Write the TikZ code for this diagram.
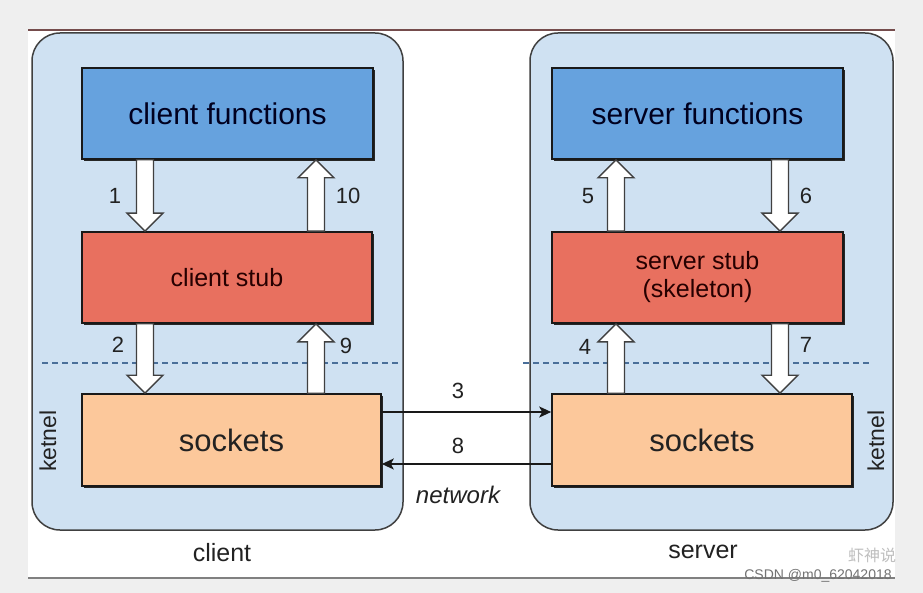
\documentclass[tikz,border=0pt]{standalone}
\usepackage{fontspec}
\setmainfont{Liberation Sans}
\newfontfamily\cjk{Noto Sans CJK SC}
\usetikzlibrary{shadows,arrows.meta,calc}
\definecolor{bgray}{HTML}{EFEFEF}
\definecolor{outerfill}{HTML}{CFE1F2}
\definecolor{bluefill}{HTML}{66A2DE}
\definecolor{redfill}{HTML}{E8705F}
\definecolor{peach}{HTML}{FCC89B}
\definecolor{txt}{HTML}{222222}
\definecolor{dashc}{HTML}{4A6F9A}
\tikzset{
  outerbox/.style={draw=black!75, line width=1.5pt, fill=outerfill, rounded corners=28pt, inner sep=0pt},
  innerbox/.style={draw=black!90, line width=1.6pt, inner sep=0pt,
    drop shadow={shadow xshift=1.8pt, shadow yshift=-1.8pt, opacity=1, fill=black!85}},
  fnbox/.style={innerbox, fill=bluefill, text=black!80!blue!60!black, font=\fontsize{30}{34}\selectfont},
  stubbox/.style={innerbox, fill=redfill, text=black!75!red!60!black, font=\fontsize{25}{30}\selectfont, align=center},
  sockbox/.style={innerbox, fill=peach, text=txt, font=\fontsize{31}{36}\selectfont},
  num/.style={text=txt, font=\fontsize{22}{26}\selectfont, inner sep=0pt},
  barrow/.style={draw=black!75, line width=1.4pt, fill=white, line join=miter},
  netarrow/.style={draw=black!90, line width=1.8pt, -{Stealth[length=12pt,width=11pt,inset=3pt]}},
  divline/.style={draw=dashc, line width=1.5pt, dash pattern=on 6pt off 4pt}
}
\newcommand\blockarrow[2]{%
  \draw[barrow] let \p1=#1, \p2=#2, \n1={ifthenelse(\y2<\y1,-1,1)} in
    (\x1-8.5pt,\y1) -- (\x1-8.5pt,{\y2-(\n1)*18pt}) -- (\x1-18pt,{\y2-(\n1)*18pt}) -- (\x2,\y2)
    -- (\x1+18pt,{\y2-(\n1)*18pt}) -- (\x1+8.5pt,{\y2-(\n1)*18pt}) -- (\x1+8.5pt,\y1) -- cycle;}
\begin{document}
\begin{tikzpicture}[x=1pt,y=-1pt]
\useasboundingbox (0,0) rectangle (923,593);
\fill[bgray] (0,0) rectangle (923,593);
\fill[white] (28,30) rectangle (895,578);
\draw[line width=1.5pt, draw=black!60!red!40!gray] (28,30) -- (895,30);
\draw[line width=2pt, draw=black!50] (28,578) -- (895,578);

% outer boxes
\node[outerbox, minimum width=371pt, minimum height=497pt] (cl) at (217.5,281.5) {};
\node[outerbox, minimum width=363pt, minimum height=497pt] (sv) at (711.5,281.5) {};

% dashed kernel lines
\coordinate (dl1) at (42,363);
\coordinate (dl2) at (401,363);
\coordinate (dr1) at (523,363);
\coordinate (dr2) at (870,363);
\draw[divline] (dl1) -- (dl2);
\draw[divline] (dr1) -- (dr2);

% inner boxes
\node[fnbox, minimum width=291pt, minimum height=91pt] (cf) at (227.5,113.5) {client functions};
\node[stubbox, minimum width=290pt, minimum height=91pt] (cs) at (227,277.5) {client stub};
\node[sockbox, minimum width=299pt, minimum height=92pt] (sockL) at (231.5,440) {sockets};
\node[fnbox, minimum width=291pt, minimum height=91pt] (sf) at (697.5,113.5) {server functions};
\node[stubbox, minimum width=291pt, minimum height=91pt] (ss) at (697.5,277.5) {server stub\\[-2pt](skeleton)};
\node[sockbox, minimum width=300pt, minimum height=92pt] (sockR) at (702,440) {sockets};

% block arrows
\blockarrow{(cf.south -| 145,0)}{(cs.north -| 145,0)}
\blockarrow{(cs.north -| 316,0)}{(cf.south -| 316,0)}
\blockarrow{(cs.south -| 145,0)}{(sockL.north -| 145,0)}
\blockarrow{(sockL.north -| 316,0)}{(cs.south -| 316,0)}
\blockarrow{(ss.north -| 616,0)}{(sf.south -| 616,0)}
\blockarrow{(sf.south -| 780,0)}{(ss.north -| 780,0)}
\blockarrow{(sockR.north -| 616,0)}{(ss.south -| 616,0)}
\blockarrow{(ss.south -| 780,0)}{(sockR.north -| 780,0)}

% network arrows
\draw[netarrow] (sockL.east |- 0,412) -- (sockR.west |- 0,412);
\draw[netarrow] (sockR.west |- 0,464) -- (sockL.east |- 0,464);

% labels
\node[num] (n1) at (115,196) {1};
\node[num] (n10) at (348,196) {10};
\node[num] (n2) at (118,345) {2};
\node[num] (n9) at (346,346) {9};
\node[num] (n5) at (588,196) {5};
\node[num] (n6) at (806,196) {6};
\node[num] (n4) at (585,347) {4};
\node[num] (n7) at (806,345) {7};
\node[num] (n3) at (458,391) {3};
\node[num] (n8) at (458,446) {8};
\node[num, font=\fontsize{24}{28}\selectfont\itshape] (net) at (458,495) {network};
\node[num, font=\fontsize{25}{30}\selectfont] (lc) at (222,553) {client};
\node[num, font=\fontsize{25}{30}\selectfont] (ls) at (703,552) {server};
\node[num, font=\fontsize{23}{27}\selectfont, rotate=90] (kl) at (48,441) {ketnel};
\node[num, font=\fontsize{23}{27}\selectfont, rotate=90] (kr) at (876,441) {ketnel};

% watermark
\node[text=black!25, font=\cjk\fontsize{16}{19}\selectfont, inner sep=0pt] (wm2) at (872,555) {虾神说};
\node[text=black!55, font=\fontsize{14}{17}\selectfont, inner sep=0pt] (wm1) at (818,576) {CSDN @m0\_62042018};
\end{tikzpicture}
\end{document}
